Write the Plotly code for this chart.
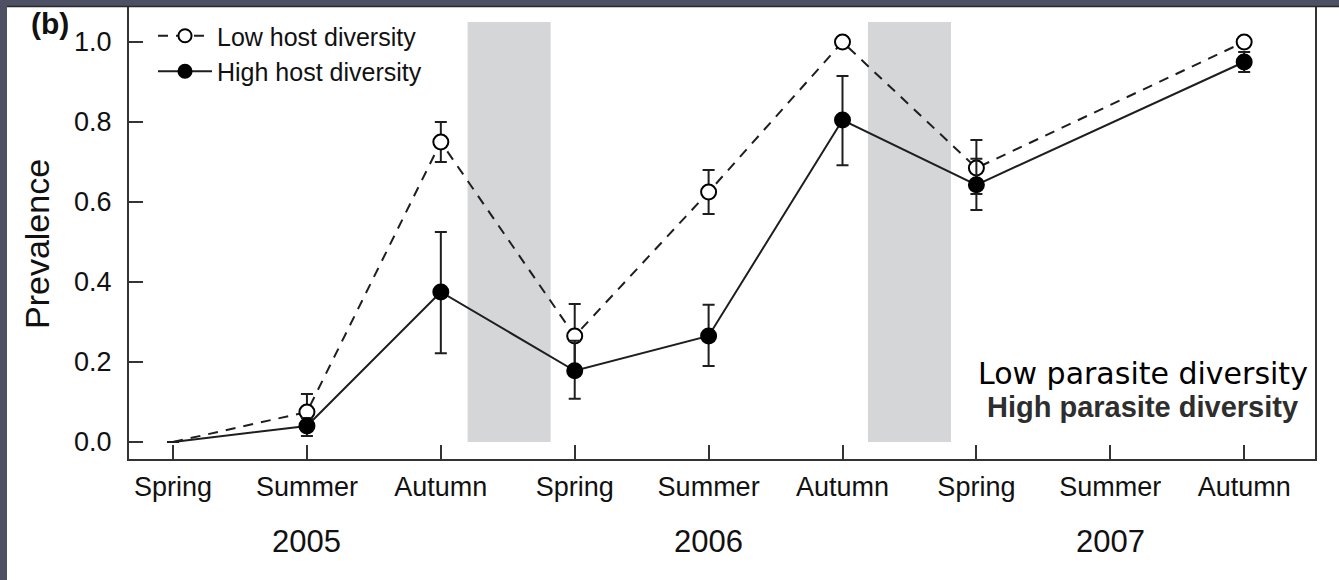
import plotly.graph_objects as go

# ---- data ----
seasons = ["Spring", "Summer", "Autumn", "Spring", "Summer", "Autumn", "Spring", "Summer", "Autumn"]
years = ["2005", "2006", "2007"]

# Low host diversity (open circles, dashed)
low_x_idx = [0, 1, 2, 3, 4, 5, 6, 8]
low_vals = [0.0, 0.075, 0.75, 0.265, 0.625, 1.0, 0.685, 1.0]
low_err_up = [0.0, 0.045, 0.05, 0.08, 0.055, 0.0, 0.07, 0.0]
low_err_dn = [0.0, 0.035, 0.05, 0.075, 0.055, 0.0, 0.065, 0.0]

# High host diversity (filled circles, solid)
high_x_idx = [0, 1, 2, 3, 4, 5, 6, 8]
high_vals = [0.0, 0.04, 0.375, 0.178, 0.265, 0.805, 0.643, 0.95]
high_err_up = [0.0, 0.02, 0.15, 0.075, 0.078, 0.11, 0.065, 0.025]
high_err_dn = [0.0, 0.025, 0.153, 0.07, 0.075, 0.113, 0.063, 0.025]

# winter gaps (in season-index units) shaded grey
winter_bands = [(2.2, 2.82), (5.19, 5.81)]
band_top = 1.05

ytick_vals = [0.0, 0.2, 0.4, 0.6, 0.8, 1.0]

FONT = "Liberation Sans, Arial, Helvetica, sans-serif"
INK = "#1e1e1e"

fig = go.Figure()

marker_sizes_low = [0 if v == 0 else 15 for v in low_vals]
marker_sizes_high = [0 if v == 0 else 15 for v in high_vals]

fig.add_trace(go.Scatter(
    x=low_x_idx, y=low_vals, name="Low host diversity",
    mode="lines+markers",
    line=dict(color=INK, width=2, dash="10px,8px"),
    marker=dict(symbol="circle", size=marker_sizes_low, color="white", opacity=1,
                line=dict(color="#000", width=2)),
    error_y=dict(type="data", symmetric=False, array=low_err_up, arrayminus=low_err_dn,
                 color=INK, thickness=2, width=6),
))
fig.add_trace(go.Scatter(
    x=high_x_idx, y=high_vals, name="High host diversity",
    mode="lines+markers",
    line=dict(color=INK, width=2),
    marker=dict(symbol="circle", size=marker_sizes_high, color="#000", opacity=1,
                line=dict(color="#000", width=2)),
    error_y=dict(type="data", symmetric=False, array=high_err_up, arrayminus=high_err_dn,
                 color=INK, thickness=2, width=6),
))

shapes = []
for x0, x1 in winter_bands:
    shapes.append(dict(type="rect", xref="x", yref="y", x0=x0, x1=x1, y0=0, y1=band_top,
                       fillcolor="#d5d6d8", line=dict(width=0), layer="below"))

# slide background strips (left and top edge)
W, H = 1339, 580
ml, mr, mt, mb = 129, 24, 6, 121
pw, ph = W - ml - mr, H - mt - mb
def px_x(p):
    return (p - ml) / pw
def px_y(p):
    return 1 - (p - mt) / ph
slide = "#4e5164"
shapes.append(dict(type="rect", xref="paper", yref="paper", x0=px_x(0), x1=px_x(W), y0=px_y(6), y1=px_y(0),
                   fillcolor=slide, line=dict(width=0), layer="above"))
shapes.append(dict(type="rect", xref="paper", yref="paper", x0=px_x(0), x1=px_x(7), y0=px_y(H), y1=px_y(0),
                   fillcolor=slide, line=dict(width=0), layer="above"))
shapes.append(dict(type="line", xref="paper", yref="paper", x0=px_x(7), x1=px_x(W), y0=px_y(6.5), y1=px_y(6.5),
                   line=dict(color="#2a2a2e", width=1.5), layer="above"))

annotations = []
for i, yr in enumerate(years):
    annotations.append(dict(x=3 * i + 1, y=px_y(541), xref="x", yref="paper", text=yr,
                            showarrow=False, font=dict(family=FONT, size=31, color="#111"),
                            xanchor="center", yanchor="middle"))
annotations.append(dict(x=px_x(29), y=px_y(24), xref="paper", yref="paper", text="<b>(b)</b>",
                        showarrow=False, font=dict(family=FONT, size=30, color="#111"),
                        xanchor="left", yanchor="middle"))
annotations.append(dict(x=px_x(37), y=px_y(244), xref="paper", yref="paper", text="Prevalence",
                        textangle=-90, showarrow=False, font=dict(family=FONT, size=34, color="#111"),
                        xanchor="center", yanchor="middle"))
annotations.append(dict(x=px_x(1310), y=px_y(373), xref="paper", yref="paper", text="Low parasite diversity",
                        showarrow=False, font=dict(family="DejaVu Sans, Verdana, sans-serif", size=30, color="#000"),
                        xanchor="right", yanchor="middle"))
annotations.append(dict(x=px_x(1300), y=px_y(407), xref="paper", yref="paper", text="<b>High parasite diversity</b>",
                        showarrow=False, font=dict(family=FONT, size=29, color="#2e2e2e"),
                        xanchor="right", yanchor="middle"))

fig.update_layout(
    width=W, height=H,
    margin=dict(l=ml, r=mr, t=mt, b=mb, pad=0),
    paper_bgcolor="white", plot_bgcolor="white",
    font=dict(family=FONT, color="#111"),
    showlegend=True,
    legend=dict(x=px_x(153), y=px_y(13), xanchor="left", yanchor="top",
                bgcolor="rgba(0,0,0,0)", font=dict(family=FONT, size=25, color="#111"),
                tracegroupgap=0, itemwidth=54),
    shapes=shapes, annotations=annotations,
    xaxis=dict(range=[-0.329, 8.529], tickmode="array", tickvals=list(range(len(seasons))),
               ticktext=seasons, ticks="inside", ticklen=14, tickwidth=2, tickcolor="#333",
               showline=True, linecolor="#333", linewidth=2, mirror=False,
               showgrid=False, zeroline=False, tickfont=dict(family=FONT, size=27, color="#111"),
               ticklabelstandoff=3),
    yaxis=dict(range=[-0.0425, 1.09],
               tickmode="array", tickvals=ytick_vals,
               ticktext=[f"{v:.1f}" for v in ytick_vals], ticks="inside", ticklen=14, tickwidth=2,
               tickcolor="#333", showline=True, linecolor="#333", linewidth=2, mirror=True,
               showgrid=False, zeroline=False, tickfont=dict(family=FONT, size=27, color="#111"),
               ticklabelstandoff=10),
)

fig.write_html("out.html", config={"displayModeBar": False},
               post_script="document.body.style.margin='0';")
